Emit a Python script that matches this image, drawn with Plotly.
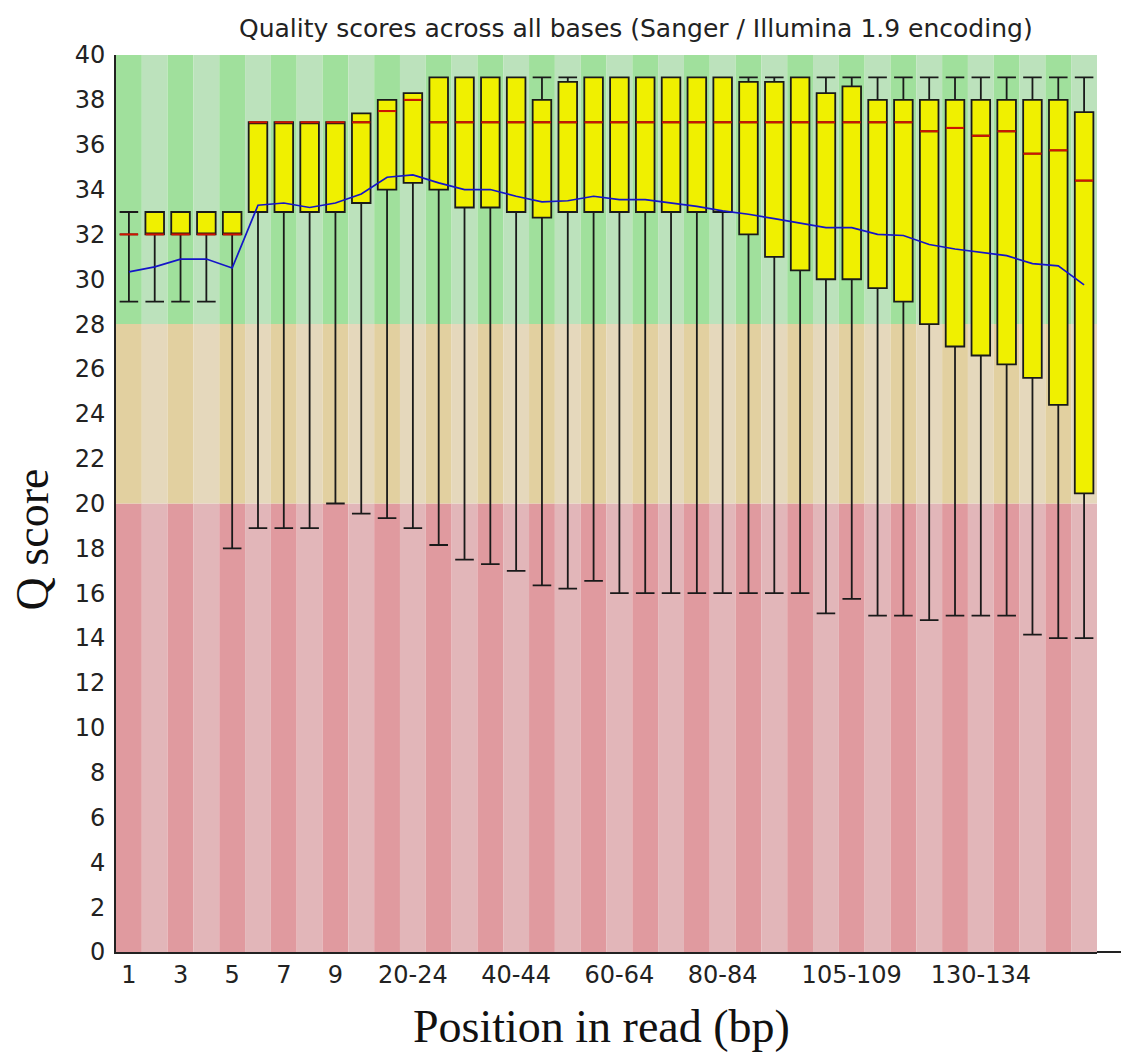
import plotly.graph_objects as go

# ---- data ----
positions = ["1", "2", "3", "4", "5", "6", "7", "8", "9",
             "10-14", "15-19", "20-24", "25-29", "30-34", "35-39", "40-44",
             "45-49", "50-54", "55-59", "60-64", "65-69", "70-74", "75-79",
             "80-84", "85-89", "90-94", "95-99", "100-104", "105-109",
             "110-114", "115-119", "120-124", "125-129", "130-134",
             "135-139", "140-144", "145-149", "150-151"]

q_median = [32, 32, 32, 32, 32, 37, 37, 37, 37, 37, 37.5, 38,
            37, 37, 37, 37, 37, 37, 37, 37, 37, 37, 37, 37, 37, 37, 37, 37, 37,
            37, 37, 36.6, 36.75, 36.4, 36.6, 35.6, 35.75, 34.4]
q_lower = [32, 32, 32, 32, 32, 33, 33, 33, 33, 33.4, 34, 34.3,
           34, 33.2, 33.2, 33, 32.75, 33, 33, 33, 33, 33, 33, 33, 32, 31,
           30.4, 30, 30, 29.6, 29, 28, 27, 26.6, 26.2, 25.6, 24.4, 20.45]
q_upper = [32, 33, 33, 33, 33, 37, 37, 37, 37, 37.4, 38, 38.3,
           39, 39, 39, 39, 38, 38.8, 39, 39, 39, 39, 39, 39, 38.8, 38.8,
           39, 38.3, 38.6, 38, 38, 38, 38, 38, 38, 38, 38, 37.45]
p_upper = [33, 33, 33, 33, 33, 37, 37, 37, 37, 37.4, 38, 38.3,
           39, 39, 39, 39, 39, 39, 39, 39, 39, 39, 39, 39, 39, 39,
           39, 39, 39, 39, 39, 39, 39, 39, 39, 39, 39, 39]
p_lower = [29, 29, 29, 29, 18, 18.9, 18.9, 18.9, 20, 19.55, 19.35, 18.9,
           18.15, 17.5, 17.3, 17, 16.35, 16.2, 16.55, 16, 16, 16, 16, 16,
           16, 16, 16, 15.1, 15.75, 15, 15, 14.8, 15, 15, 15, 14.15, 14, 14]
q_mean = [30.33, 30.55, 30.9, 30.9, 30.5, 33.3, 33.4, 33.2, 33.4, 33.8,
          34.55, 34.65, 34.3, 34.0, 34.0, 33.7, 33.45, 33.5, 33.7, 33.55,
          33.55, 33.4, 33.25, 33.05, 32.9, 32.7, 32.5, 32.3, 32.3, 32.0,
          31.95, 31.55, 31.35, 31.2, 31.05, 30.7, 30.6, 29.75]

tick_idx = [0, 2, 4, 6, 8, 11, 15, 19, 23, 28, 33]
tick_text = ["1", "3", "5", "7", "9", "20-24", "40-44", "60-64", "80-84",
             "105-109", "130-134"]

zones = [(0, 20, "rgb(224,154,159)", "rgb(226,182,185)"),
         (20, 28, "rgb(226,208,160)", "rgb(229,216,188)"),
         (28, 40, "rgb(160,224,156)", "rgb(188,226,188)")]

idx = list(range(len(positions)))

fig = go.Figure()

fig.add_trace(go.Box(
    x=idx, q1=q_lower, median=q_median, q3=q_upper,
    lowerfence=p_lower, upperfence=p_upper,
    boxpoints=False, width=0.72, whiskerwidth=1,
    fillcolor="rgb(240,240,0)",
    line=dict(color="#1a1a1a", width=1.8),
    hoverinfo="skip", showlegend=False))

fig.add_trace(go.Scatter(
    x=idx, y=q_median, mode="markers",
    marker=dict(symbol="line-ew", size=13,
                line=dict(color="rgb(210,20,0)", width=2)),
    hoverinfo="skip", showlegend=False))

fig.add_trace(go.Scatter(
    x=idx, y=q_mean, mode="lines",
    line=dict(color="rgb(20,20,200)", width=1.7),
    hoverinfo="skip", showlegend=False))

shapes = []
for i in idx:
    for (y0, y1, dark, light) in zones:
        shapes.append(dict(type="rect", xref="x", yref="y",
                           x0=i - 0.5, x1=i + 0.5, y0=y0, y1=y1,
                           fillcolor=dark if i % 2 == 0 else light,
                           line=dict(width=0), layer="below"))
shapes.append(dict(type="line", xref="paper", yref="paper",
                   x0=1, x1=1.04, y0=0, y1=0,
                   line=dict(color="#222", width=2)))
fig.update_layout(shapes=shapes)

fig.update_layout(
    width=1121, height=1045,
    margin=dict(l=108, r=32, t=47, b=101),
    paper_bgcolor="white", plot_bgcolor="white",
    font=dict(family="DejaVu Sans", color="#222"),
    xaxis=dict(range=[-0.5, len(positions) - 0.5], tickmode="array",
               tickvals=tick_idx, ticktext=tick_text,
               showgrid=False, zeroline=False, ticks="",
               showline=True, linecolor="#222", linewidth=2,
               tickfont=dict(family="DejaVu Sans", size=24, color="#222")),
    yaxis=dict(range=[0, 40], dtick=2, showgrid=False, zeroline=False,
               ticks="", showline=True, linecolor="#222", linewidth=2,
               ticklabelstandoff=4,
               tickfont=dict(family="DejaVu Sans", size=24, color="#222")),
    annotations=[
        dict(text="Quality scores across all bases (Sanger / Illumina 1.9 encoding)",
             xref="paper", yref="paper", x=0.53, y=1.0, yshift=27,
             xanchor="center", yanchor="middle", showarrow=False,
             font=dict(family="DejaVu Sans", size=25, color="#222")),
        dict(text="Position in read (bp)", xref="paper", yref="paper",
             x=0.495, y=0, yshift=-74, xanchor="center", yanchor="middle",
             showarrow=False,
             font=dict(family="Liberation Serif", size=46, color="#111")),
        dict(text="Q score", xref="paper", yref="paper",
             x=0, xshift=-84, y=0.46, xanchor="center", yanchor="middle",
             textangle=-90, showarrow=False,
             font=dict(family="Liberation Serif", size=46, color="#111")),
    ],
)

fig.write_html("out.html")
